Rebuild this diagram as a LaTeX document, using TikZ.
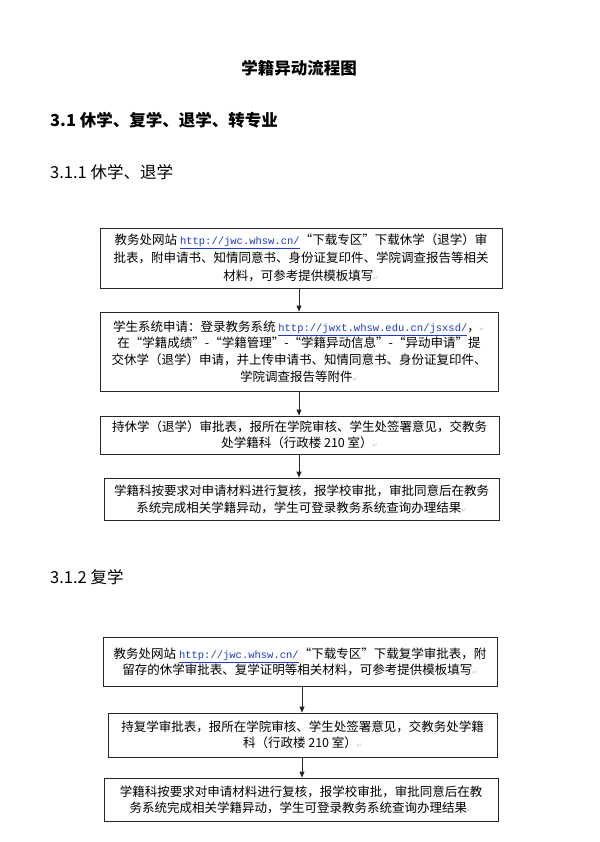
\documentclass[tikz,border=0pt]{standalone}
\usepackage{fontspec}
\setmainfont{Noto Sans CJK SC}
\newfontfamily\urlfont{Liberation Mono}
\newfontfamily\markfont{DejaVu Sans}
\usetikzlibrary{arrows.meta}
\definecolor{linkblue}{RGB}{30,60,200}
\newcommand\myurl[1]{\textcolor{linkblue}{\underline{\urlfont\fontsize{10.5}{12}\selectfont #1}}}
\newcommand\pmark{\textcolor{gray!55}{\markfont\fontsize{6}{6}\selectfont ↵}}
\begin{document}
\begin{tikzpicture}[x=1pt,y=-1pt,
  flowbox/.style={draw=black!85, line width=0.8pt, rectangle, inner sep=0pt, align=center},
  flowarrow/.style={draw=black!85, line width=0.8pt, -{Triangle[length=6pt,width=5pt]}},
  titletext/.style={font=\bfseries\fontsize{16.5}{18}\selectfont},
  headbold/.style={anchor=west, inner sep=0pt, font=\bfseries\fontsize{16.5}{18}\selectfont},
  headreg/.style={anchor=west, inner sep=0pt, font=\fontsize{16.5}{18}\selectfont}]
\useasboundingbox[fill=white] (0,0) rectangle (599,842);

\node[titletext] (title) at (299,68) {学籍异动流程图};
\node[headbold] (h1) at (50,120) {3.1 休学、复学、退学、转专业};
\node[headreg] (h2) at (50,172) {3.1.1 休学、退学};
\node[headreg] (h3) at (50,577) {3.1.2 复学};

% section 3.1.1
\node[flowbox, minimum width=402pt, minimum height=60pt, font=\fontsize{12.5}{18}\selectfont] (b1) at (301,258)
 {教务处网站 \myurl{http://jwc.whsw.cn/}“下载专区”下载休学（退学）审\\
  批表，附申请书、知情同意书、身份证复印件、学院调查报告等相关\\
  材料，可参考提供模板填写\pmark};
\node[flowbox, minimum width=398pt, minimum height=79pt, font=\fontsize{12.5}{16.7}\selectfont] (b2) at (299,351.5)
 {学生系统申请：登录教务系统 \myurl{http://jwxt.whsw.edu.cn/jsxsd/}，\pmark\\
  在“学籍成绩”-“学籍管理”-“学籍异动信息”-“异动申请”提\\
  交休学（退学）申请，并上传申请书、知情同意书、身份证复印件、\\
  学院调查报告等附件\pmark};
\node[flowbox, minimum width=399pt, minimum height=38pt, font=\fontsize{12.5}{16}\selectfont] (b3) at (299.5,435)
 {持休学（退学）审批表，报所在学院审核、学生处签署意见，交教务\\
  处学籍科（行政楼 210 室）\pmark};
\node[flowbox, minimum width=395pt, minimum height=42pt, font=\fontsize{12.5}{17}\selectfont] (b4) at (301.5,499)
 {学籍科按要求对申请材料进行复核，报学校审批，审批同意后在教务\\
  系统完成相关学籍异动，学生可登录教务系统查询办理结果\pmark};

\coordinate (ax1) at (299,0);
\draw[flowarrow] (b1.south -| ax1) -- (b2.north -| ax1);
\draw[flowarrow] (b2.south -| ax1) -- (b3.north -| ax1);
\draw[flowarrow] (b3.south -| ax1) -- (b4.north -| ax1);

% section 3.1.2
\node[flowbox, minimum width=394pt, minimum height=49pt, font=\fontsize{12.5}{16}\selectfont] (c1) at (300,661.5)
 {教务处网站 \myurl{http://jwc.whsw.cn/}“下载专区”下载复学审批表，附\\
  留存的休学审批表、复学证明等相关材料，可参考提供模板填写\pmark};
\node[flowbox, minimum width=389pt, minimum height=44pt, font=\fontsize{12.5}{16.5}\selectfont] (c2) at (302.5,735)
 {持复学审批表，报所在学院审核、学生处签署意见，交教务处学籍\\
  科（行政楼 210 室）\pmark};
\node[flowbox, minimum width=394pt, minimum height=43pt, font=\fontsize{12.5}{16}\selectfont] (c3) at (301,799.5)
 {学籍科按要求对申请材料进行复核，报学校审批，审批同意后在教\\
  务系统完成相关学籍异动，学生可登录教务系统查询办理结果\pmark};

\coordinate (ax2) at (302,0);
\draw[flowarrow] (c1.south -| ax2) -- (c2.north -| ax2);
\draw[flowarrow] (c2.south -| ax2) -- (c3.north -| ax2);
\end{tikzpicture}
\end{document}
